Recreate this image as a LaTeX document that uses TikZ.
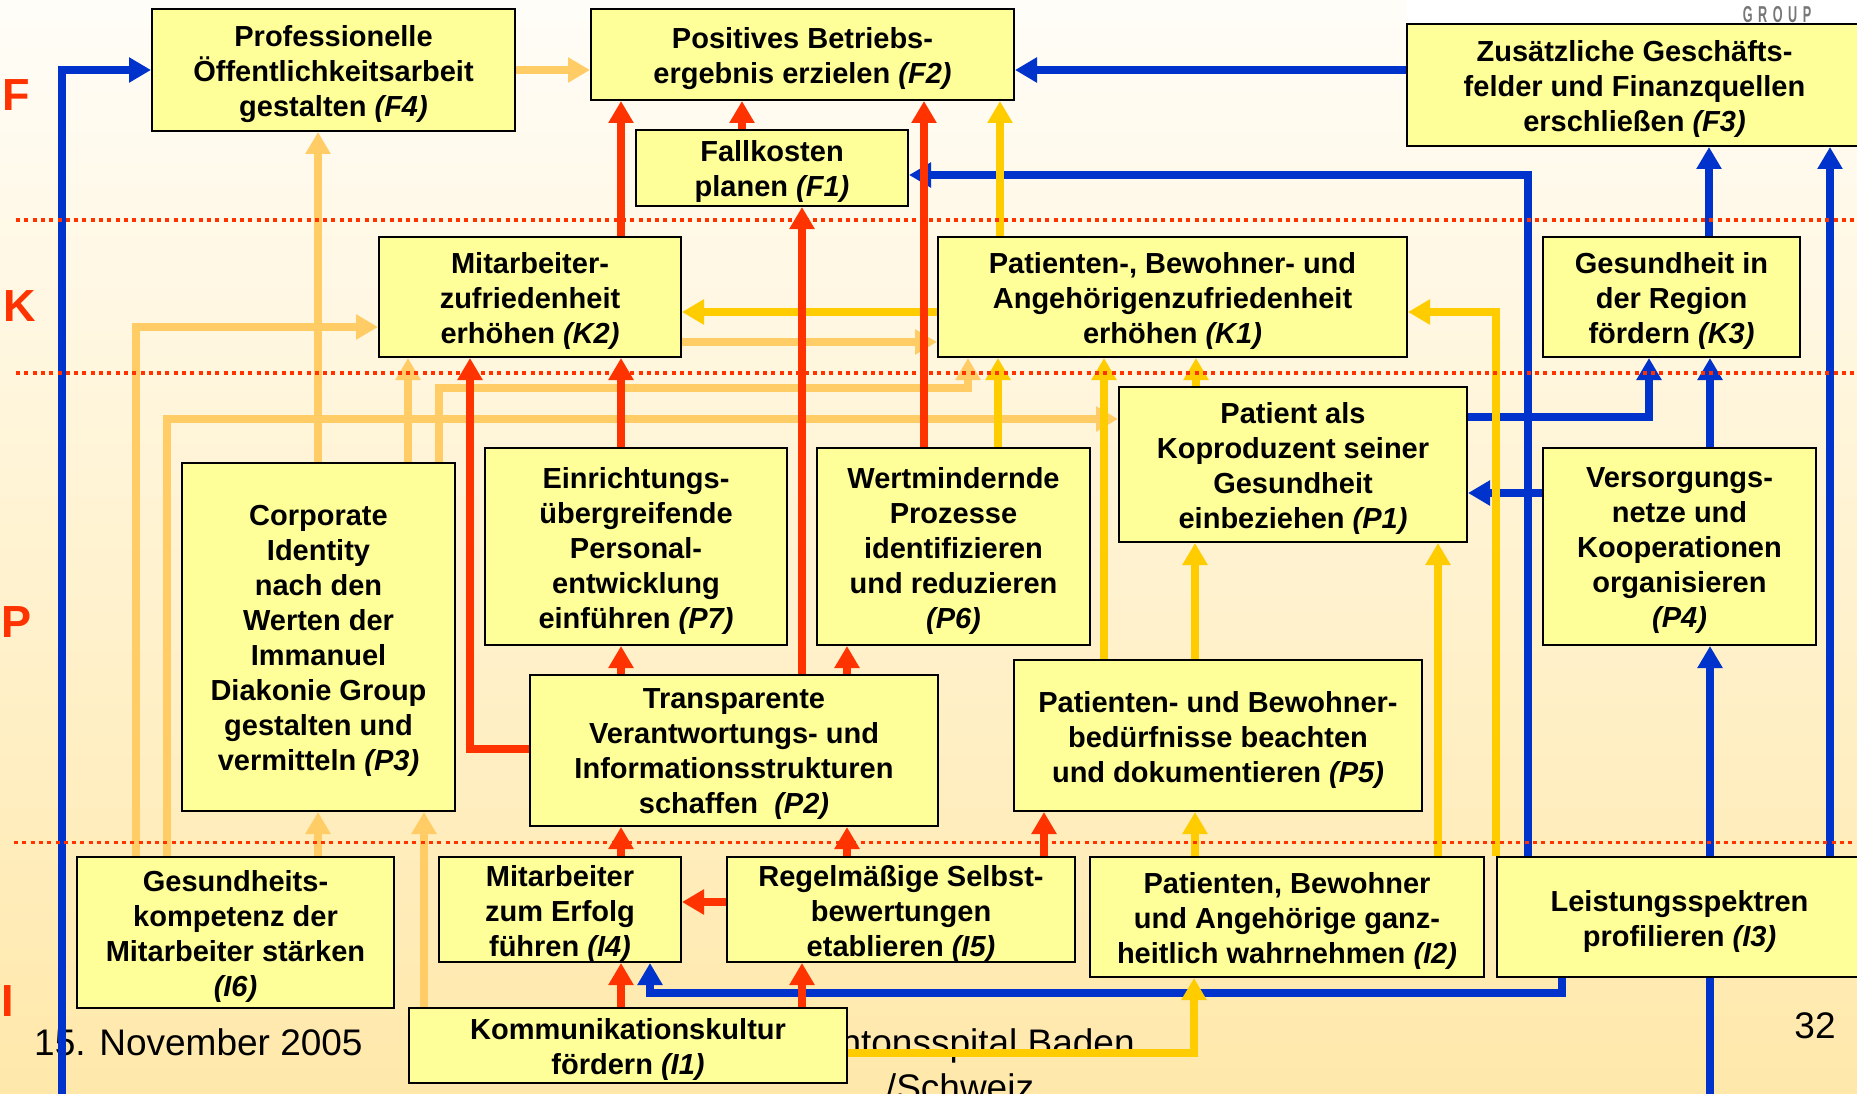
\documentclass[tikz,border=0pt]{standalone}
\usepackage{fontspec}
\setmainfont{Liberation Sans}
\usetikzlibrary{arrows.meta}

\definecolor{boxfill}{HTML}{FFFF99}
\definecolor{cred}{HTML}{FF3300}
\definecolor{cblue}{HTML}{0033CC}
\definecolor{cpeach}{HTML}{FFCC66}
\definecolor{cgold}{HTML}{FFCC00}
\definecolor{bgtop}{HTML}{FFFDF8}
\definecolor{bgbot}{HTML}{FFE8AA}
\definecolor{logogray}{HTML}{777777}

\tikzset{
  goalbox/.style={draw=black, line width=2pt, fill=boxfill, inner sep=0pt},
  goaltext/.style={align=center, inner sep=0pt, font=\bfseries\fontsize{29}{35}\selectfont},
  con/.style={line width=8pt, line join=miter, -{Triangle[width=24pt,length=22pt]}},
  bluecon/.style={con, draw=cblue},
  redcon/.style={con, draw=cred},
  peachcon/.style={con, draw=cpeach},
  goldcon/.style={con, draw=cgold},
  levelline/.style={draw=cred, line width=4pt, dash pattern=on 4pt off 4.3pt},
  levelletter/.style={text=cred, inner sep=0pt, font=\bfseries\fontsize{45}{45}\selectfont},
  footer/.style={inner sep=0pt, font=\fontsize{37}{44}\selectfont}
}

% goal box from its corners: name, x1, y1, x2, y2, text
\newcommand\goal[6]{%
  \node[goalbox, minimum width={(#4-#2)*1pt}, minimum height={(#5-#3)*1pt}]
    (#1) at ({(#2+#4)/2},{(#3+#5)/2}) {};
  \node[goaltext] (#1-text) at ([yshift=-4pt]#1.center) {#6};}

\begin{document}
\begin{tikzpicture}[x=1pt,y=-1pt]
\useasboundingbox (0,0) rectangle (1857,1094);
\clip (0,0) rectangle (1857,1094);

% background
\shade[top color=bgtop, bottom color=bgbot, middle color=bgtop!50!bgbot] (0,0) rectangle (1857,1094);
\fill[white] (1407,0) rectangle (1857,24);
\node[text=logogray, inner sep=0pt, font=\bfseries\fontsize{23}{23}\selectfont] (logo) at (1777,15)
  {\scalebox{0.55}[1]{G\hspace{10pt}R\hspace{10pt}O\hspace{10pt}U\hspace{10pt}P}};

% level letters
\node[levelletter] (lF) at (16,95) {F};
\node[levelletter] (lK) at (20,306) {K};
\node[levelletter] (lP) at (17,622) {P};
\node[levelletter] (lI) at (8,1001) {I};

% footer
\node[footer, anchor=base west] (date) at (34,1055) {15. November 2005};
\node[footer, anchor=base] (place1) at (965,1055) {Kantonsspital Baden};
\node[footer, anchor=base] (place2) at (960,1100) {/Schweiz};
\node[footer, anchor=base] (page) at (1815,1038) {32};

% goals
\goal{F4}{152}{9}{515}{131}{Professionelle\\Öffentlichkeitsarbeit\\gestalten \textit{(F4)}}
\goal{F2}{591}{9}{1014}{100}{Positives Betriebs-\\ergebnis erzielen \textit{(F2)}}
\goal{F1}{636}{130}{908}{206}{Fallkosten\\planen \textit{(F1)}}
\goal{F3}{1407}{24}{1862}{146}{Zusätzliche Geschäfts-\\felder und Finanzquellen\\erschließen \textit{(F3)}}
\goal{K2}{379}{237}{681}{357}{Mitarbeiter-\\zufriedenheit\\erhöhen \textit{(K2)}}
\goal{K1}{938}{237}{1407}{357}{Patienten-, Bewohner- und\\Angehörigenzufriedenheit\\erhöhen \textit{(K1)}}
\goal{K3}{1543}{237}{1800}{357}{Gesundheit in\\der Region\\fördern \textit{(K3)}}
\goal{P1}{1119}{387}{1467}{542}{Patient als\\Koproduzent seiner\\Gesundheit\\einbeziehen \textit{(P1)}}
\goal{P3}{182}{463}{455}{811}{Corporate\\Identity\\nach den\\Werten der\\Immanuel\\Diakonie Group\\gestalten und\\vermitteln \textit{(P3)}}
\goal{P7}{485}{448}{787}{645}{Einrichtungs-\\übergreifende\\Personal-\\entwicklung\\einführen \textit{(P7)}}
\goal{P6}{817}{448}{1090}{645}{Wertmindernde\\Prozesse\\identifizieren\\und reduzieren\\\textit{(P6)}}
\goal{P4}{1543}{448}{1816}{645}{Versorgungs-\\netze und\\Kooperationen\\organisieren\\\textit{(P4)}}
\goal{P2}{530}{675}{938}{826}{Transparente\\Verantwortungs- und\\Informationsstrukturen\\schaffen\ \ \textit{(P2)}}
\goal{P5}{1014}{660}{1422}{811}{Patienten- und Bewohner-\\bedürfnisse beachten\\und dokumentieren \textit{(P5)}}
\goal{I6}{77}{857}{394}{1008}{Gesundheits-\\kompetenz der\\Mitarbeiter stärken\\\textit{(I6)}}
\goal{I4}{439}{857}{681}{962}{Mitarbeiter\\zum Erfolg\\führen \textit{(I4)}}
\goal{I5}{727}{857}{1075}{962}{Regelmäßige Selbst-\\bewertungen\\etablieren \textit{(I5)}}
\goal{I2}{1090}{857}{1484}{977}{Patienten, Bewohner\\und Angehörige ganz-\\heitlich wahrnehmen \textit{(I2)}}
\goal{I3}{1497}{857}{1862}{977}{Leistungsspektren\\profilieren \textit{(I3)}}
\goal{I1}{409}{1008}{847}{1083}{Kommunikationskultur\\fördern \textit{(I1)}}

% blue links
\draw[bluecon] (62,1094) |- (F4.west);
\draw[bluecon] (F3.west |- F4.west) -- (F2.east |- F4.west);
\draw[bluecon] (I3.north -| 1528,0) |- (F1.east |- 0,175);
\draw[bluecon] (I3.north -| 1710,0) -- (P4.south -| 1710,0);
\draw[cblue, line width=8pt] (1710,1094) -- (I3.south -| 1710,0);
\draw[bluecon] (I3.north -| 1830,0) -- (F3.south -| 1830,0);
\draw[bluecon] (P4.north -| 1710,0) -- (K3.south -| 1710,0);
\draw[bluecon] (K3.north -| 1709,0) -- (F3.south -| 1709,0);
\draw[bluecon] (P1.east |- 0,417) -| (K3.south -| 1649,0);
\draw[bluecon] (P4.west |- 0,493) -- (P1.east |- 0,493);
\draw[bluecon] (I3.south -| 1562,0) |- (650,993) -- (I4.south -| 650,0);

% peach links
\draw[peachcon] (F4.east) -- (F2.west |- F4.east);
\draw[peachcon] (P3.north -| 318,0) -- (F4.south -| 318,0);
\draw[peachcon] (I6.north -| 136,0) |- (K2.west |- 0,327);
\draw[peachcon] (I6.north -| 167,0) |- (P1.west |- 0,419);
\draw[peachcon] (P3.north -| 408,0) -- (K2.south -| 408,0);
\draw[peachcon] (P3.north -| 439,0) |- (968,388) -- (K1.south -| 968,0);
\draw[peachcon] (K2.east |- 0,342) -- (K1.west |- 0,342);
\draw[peachcon] (I6.north -| 318,0) -- (P3.south -| 318,0);
\draw[peachcon] (I1.north -| 424,0) -- (P3.south -| 424,0);

% gold links
\draw[goldcon] (K1.north -| 1000,0) -- (F2.south -| 1000,0);
\draw[goldcon] (K1.west |- 0,312) -- (K2.east |- 0,312);
\draw[goldcon] (I3.north west) |- (K1.east |- 0,312);
\draw[goldcon] (P6.north -| 998,0) -- (K1.south -| 998,0);
\draw[goldcon] (P5.north -| 1104,0) -- (K1.south -| 1104,0);
\draw[goldcon] (P1.north -| 1196,0) -- (K1.south -| 1196,0);
\draw[goldcon] (P5.north -| 1195,0) -- (P1.south -| 1195,0);
\draw[goldcon] (I2.north -| 1438,0) -- (P1.south -| 1438,0);
\draw[goldcon] (I2.north -| 1195,0) -- (P5.south -| 1195,0);
\draw[goldcon] (I1.east |- 0,1053) -| (I2.south -| 1194,0);

% red links
\draw[redcon] (K2.north -| 621,0) -- (F2.south -| 621,0);
\draw[redcon] (F1.north -| 742,0) -- (F2.south -| 742,0);
\draw[redcon] (P6.north -| 924,0) -- (F2.south -| 924,0);
\draw[redcon] (P2.north -| 802,0) -- (F1.south -| 802,0);
\draw[redcon] (P7.north -| 621,0) -- (K2.south -| 621,0);
\draw[redcon] (P2.west |- 0,749) -| (K2.south -| 470,0);
\draw[redcon] (P2.north -| 621,0) -- (P7.south -| 621,0);
\draw[redcon] (P2.north -| 847,0) -- (P6.south -| 847,0);
\draw[redcon] (I4.north -| 621,0) -- (P2.south -| 621,0);
\draw[redcon] (I5.north -| 847,0) -- (P2.south -| 847,0);
\draw[redcon] (I5.north -| 1044,0) -- (P5.south -| 1044,0);
\draw[redcon] (I5.west |- 0,902) -- (I4.east |- 0,902);
\draw[redcon] (I1.north -| 621,0) -- (I4.south -| 621,0);
\draw[redcon] (I1.north -| 802,0) -- (I5.south -| 802,0);

% level separators
\draw[levelline] (16,220) -- (1857,220);
\draw[levelline] (16,373) -- (1857,373);
\draw[levelline, line width=3pt] (14,842) -- (1857,842);
\end{tikzpicture}
\end{document}
